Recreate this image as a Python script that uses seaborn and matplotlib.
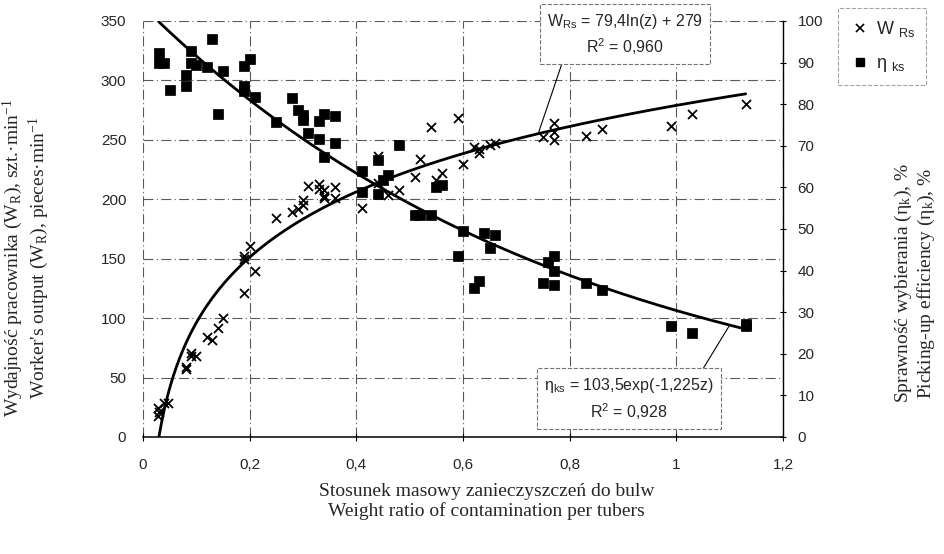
import numpy as np
import seaborn as sns
import matplotlib.pyplot as plt
from matplotlib.lines import Line2D

# worker's output W_Rs (x markers, left axis)
w_z = [0.028, 0.029, 0.030, 0.04, 0.047, 0.08, 0.08, 0.09, 0.09, 0.10,
       0.12, 0.13, 0.14, 0.15, 0.19, 0.19, 0.19, 0.20, 0.21,
       0.25, 0.28, 0.29, 0.30, 0.30, 0.31, 0.33, 0.33, 0.34, 0.34, 0.34,
       0.36, 0.36, 0.41, 0.44, 0.44, 0.45, 0.46, 0.48, 0.51, 0.52, 0.54,
       0.55, 0.56, 0.59, 0.60, 0.62, 0.63, 0.63, 0.65, 0.66,
       0.75, 0.77, 0.77, 0.77, 0.83, 0.86, 0.99, 1.03, 1.13]
w_val = [24, 18, 21, 29, 29, 59, 57, 68, 71, 68,
         84, 82, 92, 100, 152, 150, 121, 161, 140,
         184, 189, 192, 195, 199, 211, 213, 209, 208, 203, 201,
         210, 201, 193, 236, 214, 216, 204, 208, 219, 234, 261,
         216, 222, 268, 230, 244, 239, 242, 246, 247,
         252, 264, 257, 250, 253, 259, 262, 272, 280]

# picking-up efficiency eta_ks (squares, right axis)
eta_z = [0.03, 0.03, 0.04, 0.05, 0.08, 0.08, 0.09, 0.09, 0.10, 0.12,
         0.13, 0.15, 0.14, 0.19, 0.20, 0.19, 0.19, 0.21, 0.25, 0.28,
         0.29, 0.30, 0.30, 0.31, 0.33, 0.34, 0.33, 0.36, 0.36, 0.34,
         0.48, 0.44, 0.41, 0.46, 0.45, 0.41, 0.44, 0.55, 0.56, 0.51,
         0.52, 0.54, 0.60, 0.64, 0.66, 0.65, 0.59, 0.63, 0.62, 0.77,
         0.76, 0.77, 0.75, 0.77, 0.83, 0.86, 0.99, 1.03, 1.13, 1.13]
eta_val = [92.3, 90.0, 90.0, 83.4, 87.1, 84.3, 92.9, 90.0, 89.4, 88.9,
           95.7, 88.0, 77.7, 89.1, 90.9, 84.3, 83.1, 81.7, 75.7, 81.4,
           78.6, 77.4, 76.3, 73.1, 71.7, 77.7, 76.0, 77.1, 70.6, 67.4,
           70.3, 66.6, 64.0, 62.9, 61.7, 58.9, 58.3, 60.0, 60.6, 53.4,
           53.4, 53.4, 49.4, 49.1, 48.6, 45.4, 43.4, 37.4, 35.7, 43.4,
           42.0, 40.0, 37.1, 36.6, 36.9, 35.4, 26.6, 25.1, 27.1, 26.6]

# trend equations printed on the chart
w_a, w_b = 79.4, 279.0
eta_a, eta_b = 103.5, -1.225

x_ticks = [0, 0.2, 0.4, 0.6, 0.8, 1.0, 1.2]
x_ticklabels = ['0', '0,2', '0,4', '0,6', '0,8', '1', '1,2']

sns.set_style('white')
plt.rcParams['font.family'] = ['Liberation Sans', 'DejaVu Sans']
plt.rcParams['mathtext.default'] = 'regular'
serif = ['Liberation Serif', 'DejaVu Serif']

fig = plt.figure(figsize=(9.44, 5.54), dpi=100)
ax = fig.add_axes([143/944, 1-437/554, 640/944, 416/554])
ax2 = ax.twinx()

# fitted curves
z_w = np.linspace(np.exp(-w_b/w_a), 1.13, 200)
z_e = np.linspace(0.03, 1.13, 200)
sns.lineplot(x=z_w, y=w_a*np.log(z_w)+w_b, ax=ax, color='k', lw=2)
sns.lineplot(x=z_e, y=eta_a*np.exp(eta_b*z_e), ax=ax2, color='k', lw=2)

sns.scatterplot(x=w_z, y=w_val, ax=ax, marker='x', color='k', s=42, linewidth=1.3)
sns.scatterplot(x=eta_z, y=eta_val, ax=ax2, marker='s', color='k', edgecolor='k', s=42)

ax.set_xlim(0, 1.2)
ax.set_ylim(0, 350)
ax2.set_ylim(0, 100)
ax.set_xticks(x_ticks)
ax.set_xticklabels(x_ticklabels)
ax.set_yticks(range(0, 351, 50))
ax2.set_yticks(range(0, 101, 10))

ax.grid(True, color='0.35', lw=0.8, ls=(0, (9, 3, 1, 3)))
for s in ['left', 'top']:
    ax.spines[s].set_visible(False)
    ax2.spines[s].set_visible(False)
ax.spines['bottom'].set_color('k')
ax.spines['bottom'].set_linewidth(1.1)
ax2.spines['bottom'].set_visible(False)
ax.spines['right'].set_visible(False)
ax2.spines['right'].set_color('k')
ax2.spines['right'].set_linewidth(1.0)

ax.tick_params(axis='y', length=0, pad=12, labelsize=11)
ax.tick_params(axis='x', direction='inout', length=6, pad=12, labelsize=11, bottom=True, color='k')
ax2.tick_params(axis='y', direction='inout', length=5, pad=8, labelsize=11, right=True, color='k')

ax.set_xlabel('Stosunek masowy zanieczyszczeń do bulw\nWeight ratio of contamination per tubers',
              family=serif, fontsize=14, linespacing=1.15)
ax.xaxis.set_label_coords(0.537, -0.11)
ax.xaxis.label.set_va('top')
ax.set_ylabel('Wydajność pracownika (W$_R$), szt.·min$^{-1}$\nWorker\'s output (W$_R$), pieces·min$^{-1}$',
              family=serif, fontsize=14, linespacing=1.1)
ax.yaxis.set_label_coords(-0.143, 0.43)
ax2.set_ylabel('Sprawność wybierania (η$_k$), %\nPicking-up efficiency (η$_k$), %',
               family=serif, fontsize=14, linespacing=1.1, rotation=90)
ax2.yaxis.set_label_coords(1.172, 0.37)

box = dict(boxstyle='square,pad=0.45', fc='white', ec='0.45', ls='--', lw=0.8)
z1 = 0.741
ax2.annotate('W$_{Rs}$ = 79,4ln(z) + 279\nR$^2$ = 0,960',
             xy=(z1, w_a*np.log(z1)+w_b), xycoords=ax.transData,
             xytext=(0.753, 0.9675), textcoords='axes fraction',
             ha='center', va='center', multialignment='center', fontsize=11.5,
             bbox=box, linespacing=1.35,
             arrowprops=dict(arrowstyle='-', color='k', lw=0.8, relpos=(0.11, 0), shrinkA=0, shrinkB=0))
z2 = 1.10
ax2.annotate('η$_{ks}$ = 103,5exp(-1,225z)\nR$^2$ = 0,928',
             xy=(z2, eta_a*np.exp(eta_b*z2)), xycoords='data',
             xytext=(0.759, 0.091), textcoords='axes fraction',
             ha='center', va='center', multialignment='center', fontsize=11.5,
             bbox=box, linespacing=1.35,
             arrowprops=dict(arrowstyle='-', color='k', lw=0.8, relpos=(0.91, 1), shrinkA=0, shrinkB=0))

handles = [Line2D([], [], ls='none', marker='x', color='k', ms=6, mew=1.2),
           Line2D([], [], ls='none', marker='s', color='k', ms=6)]
leg = fig.legend(handles, ['W $_{Rs}$', 'η $_{ks}$'], loc='upper left',
                 bbox_to_anchor=(838/944, 1-8/554), fontsize=13, frameon=True,
                 fancybox=False, labelspacing=0.9, handletextpad=0.3,
                 handlelength=1.2, borderpad=0.6, borderaxespad=0)
leg.get_frame().set_linestyle('--')
leg.get_frame().set_edgecolor('0.55')
leg.get_frame().set_linewidth(0.8)

fig.savefig('out.png', dpi=100)
